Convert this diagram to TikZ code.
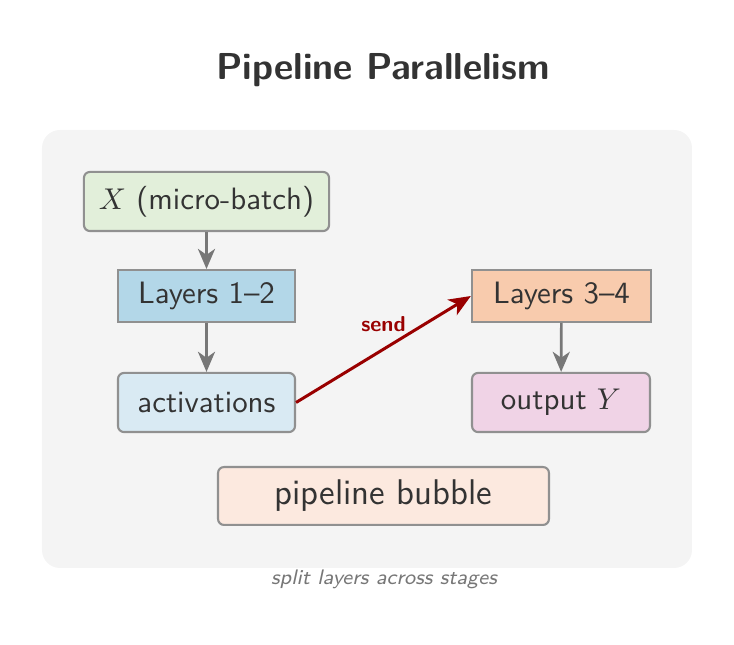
\documentclass[tikz,border=0pt]{standalone}
\usepackage{amsmath}
\usepackage{tikz}
\usetikzlibrary{shapes,arrows.meta,backgrounds}

\definecolor{txtgray}{HTML}{333333}
\definecolor{edgegray}{HTML}{909090}
\definecolor{arrowgray}{HTML}{777777}
\definecolor{panelgray}{HTML}{F4F4F4}
\definecolor{sendred}{HTML}{990000}
\definecolor{fillx}{HTML}{E2EFDA}
\definecolor{filllow}{HTML}{B3D7E8}
\definecolor{fillact}{HTML}{D9EAF3}
\definecolor{fillhigh}{HTML}{F8CBAD}
\definecolor{filly}{HTML}{F0D3E6}
\definecolor{fillbub}{HTML}{FCE9DF}

\begin{document}
\begin{tikzpicture}[x=0.3333pt,y=-0.3333pt,
  every node/.style={text=txtgray,font=\sffamily\fontsize{10.3}{12.5}\selectfont},
  stage/.style={draw=edgegray,line width=0.7pt,inner sep=0pt,minimum width=59pt,minimum height=17.3pt},
  rstage/.style={stage,rounded corners=2pt,minimum height=19.7pt},
  flow/.style={draw=arrowgray,line width=0.9pt,-{Stealth[length=6.7pt,width=5.7pt,inset=2pt]}}]

  \useasboundingbox (0,0) rectangle (734,645);
  \fill[panelgray,rounded corners=6pt] (42,130) rectangle (692,568);

  % Specification of nodes (position, etc.)
  \node[font=\sffamily\bfseries\fontsize{12.5}{15}\selectfont] (title) at (383,70) {Pipeline Parallelism};
  \node[rstage,fill=fillx,minimum width=81.7pt] (x) at (206.5,201.5) {$X$ (micro-batch)};
  \node[stage,fill=filllow] (l12) at (206.5,296) {Layers 1--2};
  \node[rstage,fill=fillact] (act) at (206.5,402.5) {activations};
  \node[stage,fill=fillhigh,minimum width=59.7pt] (l34) at (561.5,296) {Layers 3--4};
  \node[rstage,fill=filly,minimum width=59.3pt] (y) at (561,402.5) {output $Y$};
  \node[rstage,fill=fillbub,minimum width=110.3pt,minimum height=19.3pt,
        font=\sffamily\fontsize{11.9}{14}\selectfont] (bubble) at (383.5,496) {pipeline bubble};
  \node[text=arrowgray,font=\sffamily\itshape\fontsize{7}{9}\selectfont] (caption) at (384,579) {split layers across stages};

  \begin{scope}
    \draw[flow] (x) -- (l12);
    \draw[flow] (l12) -- (act);
    \draw[flow] (l34) -- (y);
    \draw[flow,draw=sendred,line width=1pt,-{Stealth[length=7.3pt,width=6pt,inset=2pt]}] (act.east) -- (l34.west)
      node[midway,above=5.3pt,inner sep=0pt,text=sendred,font=\sffamily\bfseries\fontsize{7.2}{9}\selectfont] (sendlbl) {send};
  \end{scope}

\end{tikzpicture}
\end{document}
